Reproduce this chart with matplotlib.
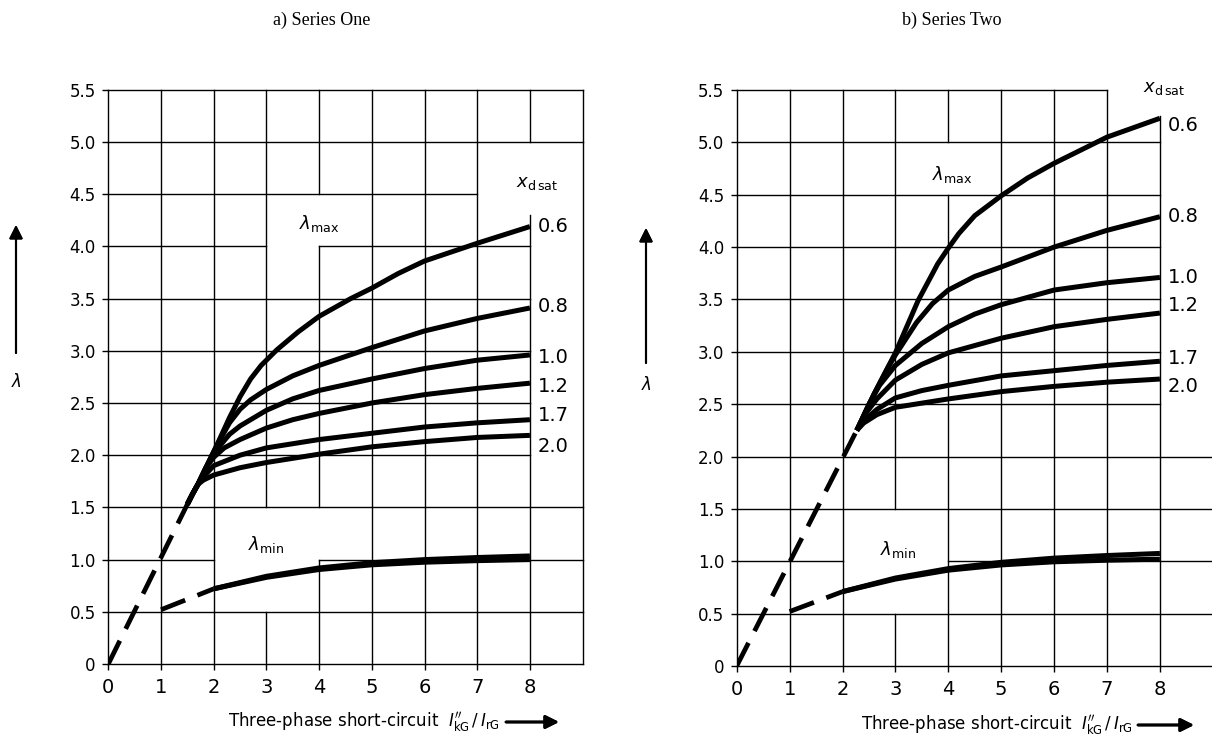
import numpy as np
import matplotlib.pyplot as plt

plt.rcParams['font.family'] = ['DejaVu Sans']
plt.rcParams['mathtext.fontset'] = 'dejavusans'

x_ticks = [0, 1, 2, 3, 4, 5, 6, 7, 8]
y_ticks = [0, 0.5, 1.0, 1.5, 2.0, 2.5, 3.0, 3.5, 4.0, 4.5, 5.0, 5.5]
y_tick_labels = ['0', '0.5', '1.0', '1.5', '2.0', '2.5', '3.0', '3.5', '4.0', '4.5', '5.0', '5.5']
xdsat = ['0.6', '0.8', '1.0', '1.2', '1.7', '2.0']

# a) Series One
a_dash_x = [0, 1.5]
a_dash_y = [0, 1.53]
a_x06 = [1.5, 1.6, 1.7, 1.9, 2.1, 2.3, 2.5, 2.7, 2.9, 3.2, 3.6, 4, 4.6, 5, 5.5, 6, 7, 8]
a_y06 = [1.53, 1.63, 1.72, 1.93, 2.14, 2.36, 2.56, 2.73, 2.86, 3.01, 3.18, 3.33, 3.5, 3.6, 3.74, 3.86, 4.03, 4.19]
a_x08 = [1.5, 1.6, 1.7, 1.9, 2.1, 2.3, 2.5, 2.7, 3, 3.5, 4, 5, 6, 7, 8]
a_y08 = [1.53, 1.63, 1.72, 1.93, 2.13, 2.31, 2.44, 2.53, 2.63, 2.76, 2.86, 3.03, 3.19, 3.31, 3.41]
a_x10 = [1.5, 1.6, 1.7, 1.9, 2.1, 2.3, 2.5, 3, 3.5, 4, 5, 6, 7, 8]
a_y10 = [1.53, 1.63, 1.72, 1.92, 2.08, 2.2, 2.28, 2.43, 2.54, 2.62, 2.73, 2.83, 2.91, 2.96]
a_x12 = [1.5, 1.6, 1.7, 1.85, 2.0, 2.2, 2.5, 3, 3.5, 4, 5, 6, 7, 8]
a_y12 = [1.53, 1.63, 1.72, 1.88, 1.98, 2.07, 2.15, 2.26, 2.34, 2.40, 2.50, 2.58, 2.64, 2.69]
a_x17 = [1.5, 1.6, 1.7, 1.8, 2.0, 2.5, 3, 4, 5, 6, 7, 8]
a_y17 = [1.53, 1.63, 1.72, 1.79, 1.90, 2.00, 2.07, 2.15, 2.21, 2.27, 2.31, 2.34]
a_x20 = [1.5, 1.6, 1.7, 1.8, 2.0, 2.5, 3, 4, 5, 6, 7, 8]
a_y20 = [1.53, 1.63, 1.72, 1.76, 1.81, 1.88, 1.93, 2.01, 2.08, 2.13, 2.17, 2.19]
a_min_dash_x = [1.0, 2.0]
a_min_dash_y = [0.52, 0.72]
a_min_x = [2, 3, 4, 5, 6, 7, 8]
a_min_hi = [0.72, 0.84, 0.92, 0.97, 1.00, 1.02, 1.035]
a_min_lo = [0.72, 0.83, 0.905, 0.95, 0.975, 0.99, 1.00]

# b) Series Two
b_dash_x = [0, 2.27]
b_dash_y = [0, 2.25]
b_x06 = [2.27, 2.6, 3, 3.43, 3.8, 4, 4.2, 4.5, 5, 5.5, 6, 7, 8]
b_y06 = [2.25, 2.6, 2.99, 3.49, 3.84, 3.99, 4.13, 4.3, 4.49, 4.66, 4.80, 5.05, 5.23]
b_x08 = [2.27, 2.6, 2.85, 3, 3.4, 3.7, 4, 4.5, 5, 6, 7, 8]
b_y08 = [2.25, 2.6, 2.84, 2.97, 3.28, 3.46, 3.59, 3.72, 3.81, 4.0, 4.16, 4.29]
b_x10 = [2.27, 2.5, 2.7, 3, 3.5, 4, 4.5, 5, 6, 7, 8]
b_y10 = [2.25, 2.5, 2.68, 2.87, 3.08, 3.24, 3.36, 3.45, 3.59, 3.66, 3.71]
b_x12 = [2.27, 2.45, 2.65, 3, 3.5, 4, 5, 6, 7, 8]
b_y12 = [2.25, 2.42, 2.55, 2.73, 2.88, 2.99, 3.13, 3.24, 3.31, 3.37]
b_x17 = [2.27, 2.4, 2.65, 3, 3.5, 4, 5, 6, 7, 8]
b_y17 = [2.25, 2.34, 2.45, 2.56, 2.63, 2.68, 2.77, 2.82, 2.87, 2.91]
b_x20 = [2.27, 2.4, 2.65, 3, 3.5, 4, 5, 6, 7, 8]
b_y20 = [2.25, 2.32, 2.40, 2.47, 2.51, 2.55, 2.62, 2.67, 2.71, 2.74]
b_min_dash_x = [1.0, 2.0]
b_min_dash_y = [0.52, 0.71]
b_min_x = [2, 3, 4, 5, 6, 7, 8]
b_min_hi = [0.71, 0.84, 0.93, 0.99, 1.03, 1.055, 1.075]
b_min_lo = [0.71, 0.83, 0.915, 0.965, 0.995, 1.01, 1.02]


def cut(lo, hi, gaps):
    # 把网格线去掉被标注框挡住的部分
    segs = [(lo, hi)]
    for g0, g1 in gaps:
        new = []
        for a, b in segs:
            if g1 <= a or g0 >= b:
                new.append((a, b))
                continue
            if a < g0:
                new.append((a, g0))
            if g1 < b:
                new.append((g1, b))
        segs = new
    return segs


def panel(ax, curves, dash, mins, mins_dash, vgaps, hgaps, lab_y, head, lmax, lmin):
    ax.set_xlim(0, 9)
    ax.set_ylim(0, 5.5)
    for s in ax.spines.values():
        s.set_visible(False)

    for xv in range(10):
        for a, b in cut(0, 5.5, [g[1:] for g in vgaps if g[0] == xv]):
            ax.plot([xv, xv], [a, b], color='k', lw=1.0, zorder=1, clip_on=False)
    for yv in y_ticks:
        for a, b in cut(0, 9, [g[1:] for g in hgaps if g[0] == yv]):
            ax.plot([a, b], [yv, yv], color='k', lw=1.0, zorder=1, clip_on=False)

    for cx, cy in curves:
        ax.plot(cx, cy, color='k', lw=3.6, solid_capstyle='butt',
                solid_joinstyle='round', zorder=3, clip_on=False)
    for cx, cy in mins:
        ax.plot(cx, cy, color='k', lw=3.6, solid_capstyle='butt', zorder=3)
    for cx, cy in (dash, mins_dash):
        ax.plot(cx, cy, color='k', lw=3.4, linestyle=(0, (5.5, 2.8)),
                dash_capstyle='butt', zorder=3)

    ax.set_xticks(x_ticks)
    ax.set_xticklabels([str(v) for v in x_ticks])
    ax.set_yticks(y_ticks)
    ax.set_yticklabels(y_tick_labels)
    ax.tick_params(axis='x', length=4, width=1, labelsize=14, pad=6)
    ax.tick_params(axis='y', length=4, width=1, labelsize=12, pad=5)

    for lbl, yy in zip(xdsat, lab_y):
        ax.text(8.15, yy, lbl, fontsize=14, ha='left', va='center')
    ax.text(head[0], head[1], r'$x_{\mathrm{d\,sat}}$', fontsize=13, ha='center', va='center')
    ax.text(lmax[0], lmax[1], r'$\lambda_{\mathrm{max}}$', fontsize=13, ha='center', va='center')
    ax.text(lmin[0], lmin[1], r'$\lambda_{\mathrm{min}}$', fontsize=13, ha='center', va='center')


fig = plt.figure(figsize=(12.12, 7.37), dpi=100)
W, H = 1212, 737
ax1 = fig.add_axes([108.3 / W, 1 - 664 / H, 474.3 / W, 574.2 / H])
ax2 = fig.add_axes([736.7 / W, 1 - 666 / H, 476.1 / W, 576 / H])

panel(ax1,
      [(a_x06, a_y06), (a_x08, a_y08), (a_x10, a_y10), (a_x12, a_y12), (a_x17, a_y17), (a_x20, a_y20)],
      (a_dash_x, a_dash_y),
      [(a_min_x, a_min_hi), (a_min_x, a_min_lo)],
      (a_min_dash_x, a_min_dash_y),
      vgaps=[(4, 4.0, 4.5), (8, 4.3, 5.0), (3, 0.5, 1.5), (4, 1.0, 1.5)],
      hgaps=[(4.0, 3, 4), (4.5, 7, 9), (4.0, 8, 9), (3.5, 8, 9), (3.0, 8, 9),
             (2.5, 8, 9), (2.0, 8, 9), (1.0, 2, 4)],
      lab_y=[4.19, 3.42, 2.94, 2.66, 2.38, 2.08],
      head=(8.13, 4.61), lmax=(4.0, 4.22), lmin=(3.0, 1.14))

panel(ax2,
      [(b_x06, b_y06), (b_x08, b_y08), (b_x10, b_y10), (b_x12, b_y12), (b_x17, b_y17), (b_x20, b_y20)],
      (b_dash_x, b_dash_y),
      [(b_min_x, b_min_hi), (b_min_x, b_min_lo)],
      (b_min_dash_x, b_min_dash_y),
      vgaps=[(4, 4.5, 5.0), (8, 5.25, 5.5), (3, 0.5, 1.5), (9, 2.0, 3.3)],
      hgaps=[(5.5, 7, 9), (5.0, 8, 9), (4.5, 8, 9), (4.0, 8, 9), (3.5, 8, 9),
             (3.0, 8, 9), (2.5, 8, 9), (1.0, 2, 4)],
      lab_y=[5.16, 4.29, 3.71, 3.44, 2.94, 2.67],
      head=(8.08, 5.52), lmax=(4.07, 4.69), lmin=(3.05, 1.11))

# 标题
fig.text(322 / W, 1 - 20 / H, 'a) Series One', family='Liberation Serif', fontsize=13,
         ha='center', va='center')
fig.text(952 / W, 1 - 20 / H, 'b) Series Two', family='Liberation Serif', fontsize=13,
         ha='center', va='center')

xlab = r"Three-phase short-circuit  $I^{\prime\prime}_{\mathrm{kG}}\,/\,I_{\mathrm{rG}}$"
for xr, x0, x1, yy in [(500, 506, 559, 722), (1133, 1138, 1194, 725)]:
    fig.text(xr / W, 1 - yy / H, xlab, fontsize=12, ha='right', va='center')
    fig.add_artist(plt.annotate('', xy=(x1 / W, 1 - yy / H), xytext=(x0 / W, 1 - yy / H),
                                xycoords='figure fraction',
                                arrowprops=dict(arrowstyle='-|>', color='k', lw=2,
                                                mutation_scale=20, shrinkA=0, shrinkB=0)))

for xa, y0, y1, yl in [(16, 353, 225, 382), (646, 363, 228, 385)]:
    fig.add_artist(plt.annotate('', xy=(xa / W, 1 - y1 / H), xytext=(xa / W, 1 - y0 / H),
                                xycoords='figure fraction',
                                arrowprops=dict(arrowstyle='-|>', color='k', lw=1.5,
                                                mutation_scale=20, shrinkA=0, shrinkB=0)))
    fig.text(xa / W, 1 - yl / H, r'$\lambda$', fontsize=12, ha='center', va='center')

fig.savefig('out.png', dpi=100)
